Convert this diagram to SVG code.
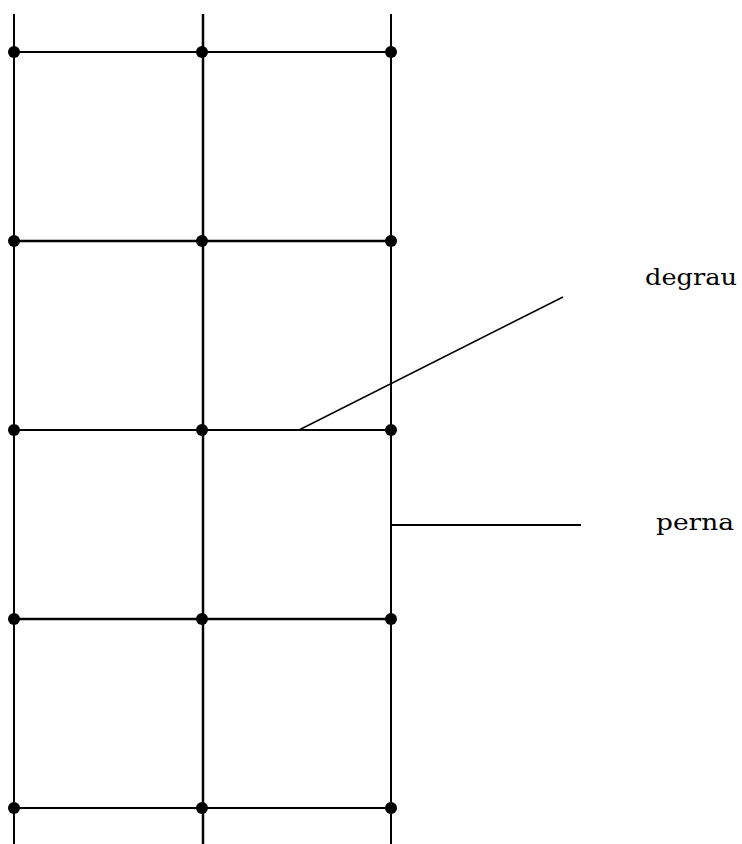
<svg xmlns="http://www.w3.org/2000/svg" width="742" height="844" viewBox="0 0 742 844">
<style>
.l{stroke:#000;stroke-width:2;fill:none}
.t{stroke:#000;stroke-width:2.5;fill:none}
.thin{stroke:#000;stroke-width:1.5;fill:none}
.d{fill:#000}
.lbl{font-family:"DejaVu Serif","Liberation Serif",serif;font-size:23px;fill:#000}
</style>
<rect width="742" height="844" fill="#fff"/>
<g id="connectors">
<line class="l" x1="14" y1="14" x2="14" y2="844"/>
<line class="t" x1="203" y1="14" x2="203" y2="844"/>
<line class="l" x1="391" y1="14" x2="391" y2="844"/>
<line class="l" x1="14" y1="52" x2="391" y2="52"/>
<line class="t" x1="14" y1="241" x2="391" y2="241"/>
<line class="l" x1="14" y1="430" x2="391" y2="430"/>
<line class="t" x1="14" y1="619" x2="391" y2="619"/>
<line class="l" x1="14" y1="808" x2="391" y2="808"/>
<line class="thin" x1="299" y1="430" x2="563" y2="297"/>
<line class="l" x1="391" y1="525" x2="581" y2="525"/>
</g>
<g id="nodes">
<g id="r1"><circle class="d" cx="14" cy="52" r="6"/><circle class="d" cx="202" cy="52" r="6"/><circle class="d" cx="391" cy="52" r="6"/></g>
<g id="r2"><circle class="d" cx="14" cy="241" r="6"/><circle class="d" cx="202" cy="241" r="6"/><circle class="d" cx="391" cy="241" r="6"/></g>
<g id="r3"><circle class="d" cx="14" cy="430" r="6"/><circle class="d" cx="202" cy="430" r="6"/><circle class="d" cx="391" cy="430" r="6"/></g>
<g id="r4"><circle class="d" cx="14" cy="619" r="6"/><circle class="d" cx="202" cy="619" r="6"/><circle class="d" cx="391" cy="619" r="6"/></g>
<g id="r5"><circle class="d" cx="14" cy="808" r="6"/><circle class="d" cx="202" cy="808" r="6"/><circle class="d" cx="391" cy="808" r="6"/></g>
</g>
<g id="degrau"><text class="lbl" x="645" y="285" textLength="92" lengthAdjust="spacingAndGlyphs">degrau</text></g>
<g id="perna"><text class="lbl" x="656" y="530" textLength="78" lengthAdjust="spacingAndGlyphs">perna</text></g>
</svg>
